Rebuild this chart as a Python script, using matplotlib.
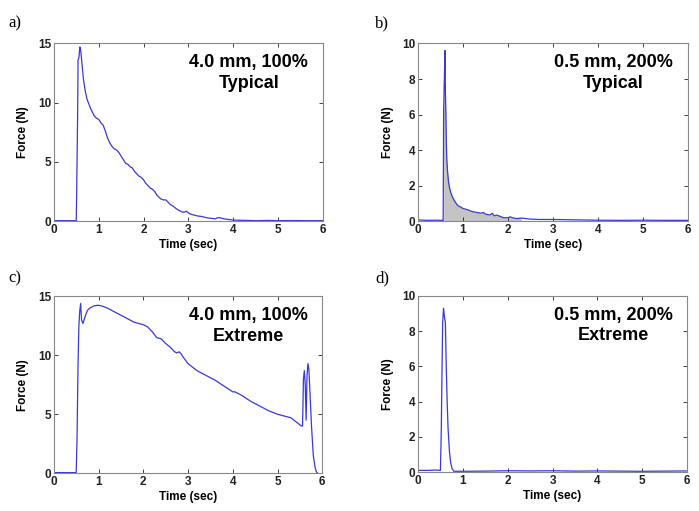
import matplotlib
matplotlib.use('Agg')
import matplotlib.pyplot as plt
import numpy as np

plt.rcParams['font.family'] = ['Liberation Sans', 'DejaVu Sans']

# Panel a: 4.0 mm, 100%, typical
t_a = [0, 0.50, 0.51, 0.53, 0.54, 0.56, 0.58, 0.60, 0.63, 0.66, 0.70, 0.74, 0.78, 0.82, 0.86,
       0.90, 0.95, 1.00, 1.05, 1.10, 1.15, 1.20, 1.25, 1.30, 1.35, 1.40, 1.45, 1.50, 1.55,
       1.60, 1.65, 1.70, 1.75, 1.80, 1.85, 1.90, 1.95, 2.00, 2.05, 2.10, 2.15, 2.20, 2.25,
       2.30, 2.35, 2.40, 2.45, 2.50, 2.55, 2.60, 2.65, 2.70, 2.75, 2.80, 2.85, 2.90, 2.95,
       3.00, 3.05, 3.10, 3.20, 3.30, 3.40, 3.50, 3.60, 3.65, 3.70, 3.80, 3.90, 4.00, 4.20,
       4.50, 4.80, 5.00, 5.30, 5.60, 6.00]
f_a = [0.05, 0.05, 2.5, 8.8, 13.6, 13.8, 14.7, 14.4, 13.2, 12.0, 11.0, 10.3, 9.9, 9.5, 9.2,
       8.9, 8.7, 8.6, 8.3, 8.1, 7.6, 7.0, 6.6, 6.3, 6.1, 6.0, 5.8, 5.5, 5.2,
       4.9, 4.8, 4.6, 4.5, 4.2, 4.0, 3.8, 3.7, 3.5, 3.2, 3.0, 2.8, 2.7, 2.5,
       2.2, 2.0, 1.85, 1.8, 1.8, 1.6, 1.4, 1.3, 1.15, 1.0, 0.9, 0.8, 0.75, 0.85,
       0.7, 0.6, 0.55, 0.45, 0.4, 0.3, 0.25, 0.2, 0.3, 0.3, 0.2, 0.15, 0.1, 0.08,
       0.05, 0.07, 0.05, 0.06, 0.05, 0.05]

# Panel b: 0.5 mm, 200%, typical
t_b = [0, 0.20, 0.40, 0.55, 0.56, 0.57, 0.59, 0.60, 0.61, 0.62, 0.63, 0.64, 0.66, 0.68, 0.70,
       0.73, 0.76, 0.80, 0.85, 0.90, 0.95, 1.00, 1.10, 1.20, 1.30, 1.40, 1.45, 1.50, 1.60,
       1.65, 1.70, 1.75, 1.80, 1.90, 2.00, 2.05, 2.10, 2.20, 2.30, 2.50, 2.70, 3.00, 3.50,
       4.00, 4.50, 5.00, 5.50, 6.00]
f_b = [0.08, 0.05, 0.06, 0.05, 0.05, 6.2, 8.5, 9.6, 7.2, 6.0, 4.5, 3.5, 2.7, 2.2, 1.9,
       1.6, 1.4, 1.2, 1.0, 0.85, 0.8, 0.72, 0.65, 0.55, 0.5, 0.45, 0.5, 0.4, 0.35,
       0.45, 0.3, 0.35, 0.3, 0.2, 0.2, 0.25, 0.2, 0.15, 0.18, 0.12, 0.1, 0.1, 0.08,
       0.06, 0.05, 0.06, 0.05, 0.05]

# Panel c: 4.0 mm, 100%, extreme
t_c = [0, 0.50, 0.52, 0.54, 0.56, 0.58, 0.60, 0.62, 0.65, 0.70, 0.75, 0.80, 0.90, 1.00, 1.10,
       1.20, 1.40, 1.60, 1.80, 2.00, 2.10, 2.20, 2.30, 2.40, 2.50, 2.60, 2.70, 2.75, 2.80,
       2.85, 2.90, 3.00, 3.20, 3.40, 3.60, 3.80, 4.00, 4.05, 4.20, 4.40, 4.60, 4.80, 5.00,
       5.20, 5.30, 5.40, 5.50, 5.54, 5.56, 5.58, 5.60, 5.62, 5.64, 5.66, 5.68, 5.70, 5.73,
       5.76, 5.80, 5.84, 5.87, 5.90]
f_c = [0.05, 0.05, 3.2, 9.0, 12.5, 13.8, 14.4, 13.0, 12.7, 13.3, 13.8, 14.0, 14.2, 14.25, 14.15,
       14.0, 13.6, 13.2, 12.8, 12.6, 12.4, 12.0, 11.5, 11.4, 11.0, 10.7, 10.3, 10.2, 10.3,
       10.1, 9.8, 9.3, 8.7, 8.3, 7.9, 7.4, 6.9, 6.9, 6.6, 6.1, 5.7, 5.3, 5.0,
       4.8, 4.7, 4.4, 4.1, 4.0, 4.0, 8.0, 8.7, 7.5, 4.5, 8.3, 9.3, 8.9, 6.5,
       4.0, 1.5, 0.5, 0.1, 0.0]

# Panel d: 0.5 mm, 200%, extreme
t_d = [0, 0.20, 0.40, 0.50, 0.52, 0.53, 0.55, 0.57, 0.59, 0.61, 0.63, 0.65, 0.67, 0.70, 0.73,
       0.76, 0.80, 1.00, 1.50, 2.00, 2.50, 3.00, 3.50, 4.00, 4.50, 5.00, 5.50, 6.00]
f_d = [0.1, 0.1, 0.12, 0.1, 2.5, 4.8, 8.5, 9.3, 8.8, 8.5, 6.0, 4.0, 2.5, 1.2, 0.5,
       0.2, 0.05, 0.05, 0.06, 0.08, 0.07, 0.08, 0.06, 0.07, 0.06, 0.05, 0.06, 0.07]

# gray filled region of panel b
fill_start, fill_end = 0.57, 2.3

panels = [
    ('a)', t_a, f_a, [0, 5, 10, 15], '4.0 mm, 100%', 'Typical'),
    ('b)', t_b, f_b, [0, 2, 4, 6, 8, 10], '0.5 mm, 200%', 'Typical'),
    ('c)', t_c, f_c, [0, 5, 10, 15], '4.0 mm, 100%', 'Extreme'),
    ('d)', t_d, f_d, [0, 2, 4, 6, 8, 10], '0.5 mm, 200%', 'Extreme'),
]

rects = [
    [0.077, 0.567, 0.385, 0.348],
    [0.598, 0.567, 0.386, 0.348],
    [0.077, 0.074, 0.384, 0.346],
    [0.598, 0.076, 0.385, 0.345],
]
label_pos = [(0.012, 0.955), (0.537, 0.955), (0.012, 0.455), (0.537, 0.455)]

fig = plt.figure(figsize=(6.99, 5.11), dpi=100)
line_color = '#3838dc'

for i, (lab, t, f, yt, txt1, txt2) in enumerate(panels):
    ax = fig.add_axes(rects[i])
    t = np.array(t)
    f = np.array(f)
    if lab == 'b)':
        m = (t >= fill_start) & (t <= fill_end)
        ax.fill_between(t[m], 0, f[m], color='#c4c4c4', lw=0)
    ax.plot(t, f, color=line_color, lw=0.9)
    ax.set_xlim(0, 6)
    ax.set_ylim(0, yt[-1])
    ax.set_xticks(range(7))
    ax.set_yticks(yt)
    ax.tick_params(direction='in', top=True, right=True, length=3, width=0.6,
                   labelsize=8.5, pad=2, colors='#222222')
    for tl in ax.get_xticklabels() + ax.get_yticklabels():
        tl.set_fontweight('bold')
    for s in ax.spines.values():
        s.set_color('#888888')
        s.set_linewidth(0.8)
    ax.set_xlabel('Time (sec)', fontsize=8.5, fontweight='bold', labelpad=2)
    ax.set_ylabel('Force (N)', fontsize=8.5, fontweight='bold', labelpad=6)
    ax.text(0.725, 0.89, txt1, transform=ax.transAxes, ha='center', va='center',
            fontsize=13, fontweight='bold')
    ax.text(0.725, 0.775, txt2, transform=ax.transAxes, ha='center', va='center',
            fontsize=13, fontweight='bold')
    fig.text(label_pos[i][0], label_pos[i][1], lab, fontsize=12,
             family='Liberation Serif', ha='left', va='center')

fig.savefig('out.png', dpi=100)
